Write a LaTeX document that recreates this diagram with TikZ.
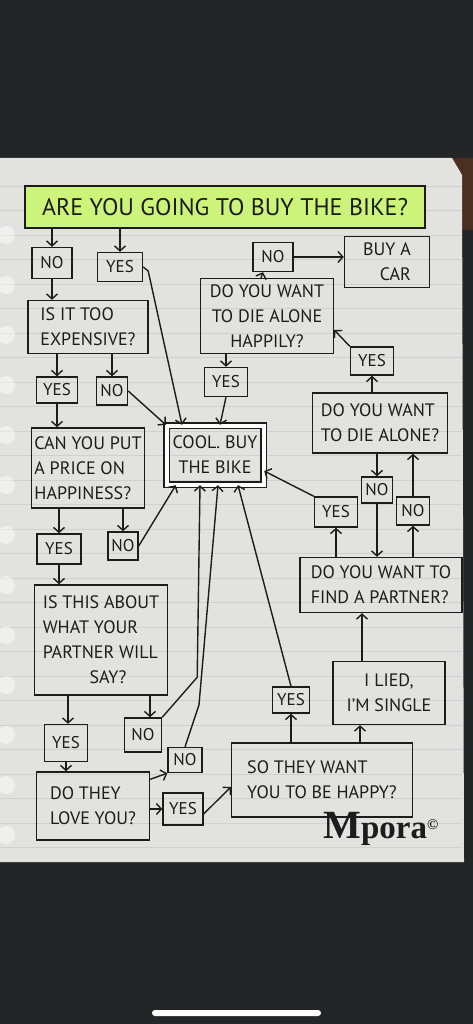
\documentclass[tikz,border=0pt]{standalone}
\usepackage{fontspec}
\setmainfont{PT Sans}
\newfontfamily\logofont{Liberation Serif}
\definecolor{bgDark}{RGB}{35,37,39}
\definecolor{paperGray}{RGB}{226,226,223}
\definecolor{ruleGray}{RGB}{206,208,210}
\definecolor{limeMark}{RGB}{204,243,122}
\definecolor{woodBrown}{RGB}{74,48,32}
\definecolor{inkBlack}{RGB}{28,28,28}
\usetikzlibrary{arrows.meta,positioning,calc}

\begin{document}
\begin{tikzpicture}[x=1pt,y=-1pt,
    qbox/.style={rectangle, draw=inkBlack, line width=1.4pt, inner sep=0pt,
                 align=left, font=\fontsize{18}{25}\selectfont, text=inkBlack},
    ans/.style={rectangle, draw=inkBlack, line width=1.4pt, inner sep=0pt,
                font=\fontsize{17}{18}\selectfont, text=inkBlack},
    arr/.style={draw=inkBlack, line width=1.4pt,
                -{Straight Barb[length=5pt,width=11pt]}}
  ]
  % page, paper and ruling
  \useasboundingbox (0,0) rectangle (473,1024);
  \fill[bgDark] (0,0) rectangle (473,1024);
  \fill[woodBrown] (448,158) rectangle (473,230);
  \fill[paperGray] (0,158) -- (452,158) -- (462,175) -- (464,862) -- (0,862) -- cycle;
  \foreach \ly in {186,210.5,...,850}
    \draw[ruleGray, line width=0.6pt] (0,\ly) -- (462,\ly);
  \foreach \hy in {235,285,...,835}
    \fill[white, opacity=0.45] (6,\hy) circle (9);
  \fill[white, rounded corners=3pt] (152,1010) rectangle (321,1016);

  % question boxes
  \node[qbox, fill=limeMark, minimum width=400, minimum height=42,
        font=\fontsize{24}{26}\selectfont] (title) at (225,207)
    {ARE YOU GOING TO BUY THE BIKE?};
  \node[qbox, minimum width=120, minimum height=53] (expens) at (88,327)
    {IS IT TOO\\EXPENSIVE?};
  \node[qbox, minimum width=113, minimum height=80] (price) at (88,468)
    {CAN YOU PUT\\A PRICE ON\\HAPPINESS?};
  \node[qbox, minimum width=133, minimum height=110] (partner) at (101,640)
    {IS THIS ABOUT\\WHAT YOUR\\PARTNER WILL\\\hspace{2.6em}SAY?};
  \node[qbox, minimum width=113, minimum height=68] (love) at (93,806)
    {DO THEY\\LOVE YOU?};
  \node[qbox, minimum width=181, minimum height=74] (happy) at (322,780)
    {SO THEY WANT\\YOU TO BE HAPPY?};
  \node[qbox, minimum width=112, minimum height=63, align=center] (lied) at (389,693)
    {I LIED,\\I'M SINGLE};
  \node[qbox, minimum width=162, minimum height=55] (findp) at (381,585)
    {DO YOU WANT TO\\FIND A PARTNER?};
  \node[qbox, minimum width=135, minimum height=60] (alone) at (380,423)
    {DO YOU WANT\\TO DIE ALONE?};
  \node[qbox, minimum width=133, minimum height=75, align=center] (happily) at (267,316)
    {DO YOU WANT\\TO DIE ALONE\\HAPPILY?};
  \node[qbox, minimum width=85, minimum height=51, align=right] (car) at (387,262)
    {BUY A\\CAR};
  \node[qbox, double, double distance=4pt, minimum width=97, minimum height=59,
        align=center] (cool) at (215,455) {COOL. BUY\\THE BIKE};

  % answer boxes
  \node[ans, minimum width=40, minimum height=31] (no1)  at (52,263)  {NO};
  \node[ans, minimum width=45, minimum height=29] (yes1) at (120,267) {YES};
  \node[ans, minimum width=41, minimum height=26] (yesA) at (57,390)  {YES};
  \node[ans, minimum width=31, minimum height=28] (noA)  at (112,391) {NO};
  \node[ans, minimum width=44, minimum height=30] (yesB) at (59,549)  {YES};
  \node[ans, minimum width=30, minimum height=28] (noB)  at (123,546) {NO};
  \node[ans, minimum width=43, minimum height=37] (yesC) at (66,743)  {YES};
  \node[ans, minimum width=37, minimum height=34] (noC)  at (143,735) {NO};
  \node[ans, minimum width=34, minimum height=25] (noD)  at (185,760) {NO};
  \node[ans, minimum width=40, minimum height=32] (yesD) at (183,809) {YES};
  \node[ans, minimum width=37, minimum height=26] (yesE) at (291,700) {YES};
  \node[ans, minimum width=43, minimum height=30] (yesF) at (336,512) {YES};
  \node[ans, minimum width=31, minimum height=26] (noF)  at (377,490) {NO};
  \node[ans, minimum width=33, minimum height=28] (noG)  at (413,511) {NO};
  \node[ans, minimum width=43, minimum height=28] (yesG) at (372,361) {YES};
  \node[ans, minimum width=40, minimum height=29] (noH)  at (273,257) {NO};
  \node[ans, minimum width=43, minimum height=29] (yesH) at (226,382) {YES};

  \node[font=\logofont\bfseries\fontsize{33}{33}\selectfont, text=inkBlack,
        inner sep=0pt] (logo) at (381,829)
    {{\fontsize{40}{40}\selectfont M}pora\textsuperscript{\fontsize{15}{15}\selectfont\copyright}};

  % connectors
  \draw[arr] (title.south -| no1) -- (no1.north);
  \draw[arr] (title.south -| yes1) -- (yes1.north);
  \draw[arr] (no1.south) -- (no1.south |- expens.north);
  \draw[arr] (yes1.east) -- ++(5,4) -- ([xshift=-33pt]cool.north);
  \draw[arr] (yesA.north |- expens.south) -- (yesA.north);
  \draw[arr] (noA.north |- expens.south) -- (noA.north);
  \draw[arr] (noA.east) -- (cool.north west);
  \draw[arr] (yesA.south) -- (yesA.south |- price.north);
  \draw[arr] (yesB.north |- price.south) -- (yesB.north);
  \draw[arr] (noB.north |- price.south) -- (noB.north);
  \draw[arr] (noB.east) -- ([xshift=10pt]cool.south west);
  \draw[arr] (yesB.south) -- (yesB.south |- partner.north);
  \draw[arr] ([xshift=2pt]yesC.north |- partner.south) -- ([xshift=2pt]yesC.north);
  \draw[arr] ([xshift=7pt]noC.north |- partner.south) -- ([xshift=7pt]noC.north);
  \draw[arr] (yesC.south) -- (yesC.south |- love.north);
  \draw[arr] ($(love.north east)+(0,8)$) -- (noD.south west);
  \draw[arr] (yesD.west -| love.east) -- (yesD.west);
  \draw[arr] ([yshift=-5pt]yesD.east) -- ([yshift=-7pt]happy.west);
  \draw[arr] (noC.north east) -- ++(35,-40) -- ([xshift=-15pt]cool.south);
  \draw[arr] (noD.north) -- ++(14,-42) -- ([xshift=3pt]cool.south);
  \draw[arr] (yesE.north) -- ([xshift=23pt]cool.south);
  \draw[arr] (yesE.south |- happy.north) -- (yesE.south);
  \draw[arr] ([xshift=-29pt]lied.south |- happy.north) -- ([xshift=-29pt]lied.south);
  \draw[arr] ([xshift=-27pt]lied.north) -- ([xshift=-27pt]lied.north |- findp.south);
  \draw[arr] (yesF.south |- findp.north) -- (yesF.south);
  \draw[arr] (yesF.north west) -- ([yshift=-16pt]cool.east);
  \draw[arr] (noG.south |- findp.north) -- (noG.south);
  \draw[arr] (noG.north) -- (noG.north |- alone.south);
  \draw[arr] (noF.north |- alone.south) -- (noF.north);
  \draw[arr] (noF.south) -- (noF.south |- findp.north);
  \draw[arr] (yesG.south |- alone.north) -- (yesG.south);
  \draw[arr] (yesG.north west) -- ([yshift=-14pt]happily.east);
  \draw[arr] ([xshift=-6pt]happily.north) -- ([xshift=-10pt]noH.south);
  \draw[arr] (noH.east) -- (noH.east -| car.west);
  \draw[arr] (yesH.north |- happily.south) -- (yesH.north);
  \draw[arr] (yesH.south) -- ([xshift=5pt]cool.north);
\end{tikzpicture}
\end{document}
